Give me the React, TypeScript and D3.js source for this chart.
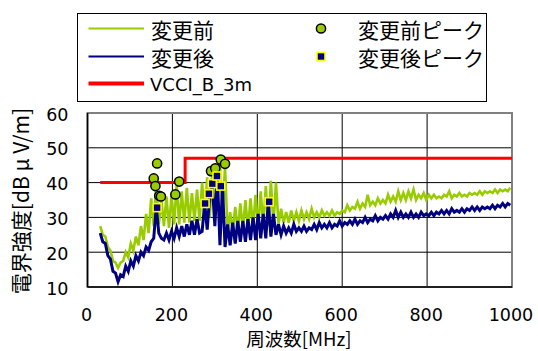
import React from 'react';
import * as d3 from 'd3';

// Measurement grid: 30 MHz start, 6 MHz step
const FREQ_START = 30;
const FREQ_STEP = 6;

// 変更前 (before) spectrum values [dBμV/m]
const beforeValues = [
  27.5, 25, 24.5, 21.5, 20.5, 17.5, 17, 15.5, 17, 17.5,
  20, 18.5, 22.5, 20.5, 24.5, 22, 27.5, 23.5, 31, 25.5,
  35.5, 27.5, 40, 28, 35, 27.5, 36, 27, 36.5, 28,
  39.5, 28, 37.5, 28.5, 38.5, 28.5, 37, 29, 38, 29,
  40, 29.5, 41.5, 30, 43, 30.5, 44, 46, 31, 44.5,
  25.5, 31.5, 26, 33, 26, 34, 26.5, 35, 26.5, 35.5,
  27, 36.5, 27, 37.5, 27.5, 39, 27.5, 40.5, 28, 40,
  28, 32.5, 28.5, 31.5, 28.5, 32, 29, 31.5, 29, 32,
  29.5, 31.5, 29.5, 32.5, 30, 31.5, 30, 32, 30.5, 31.5,
  30.5, 32, 30.5, 31.5, 31, 32, 31.5, 33.5, 32, 33,
  32.5, 34.5, 32.5, 34, 33, 36.5, 33.5, 34.5, 33.5, 35.5,
  34, 35, 34, 36.5, 34.5, 36, 34.5, 37.5, 35, 37,
  35, 37.5, 35.5, 38, 35, 36.5, 35.5, 37, 35, 36.5,
  35.5, 36.5, 35.5, 36, 35.5, 36.5, 36, 37.5, 35.5, 36.5,
  36, 37, 36, 36.5, 36, 37, 36.5, 37, 36.5, 37.5,
  36.5, 37.5, 37, 37.5, 37, 38, 37, 38, 37.5, 38,
  37.5, 38.5,
];

// 変更後 (after) spectrum values [dBμV/m]
const afterValues = [
  25.5, 23, 22.5, 19, 18, 14.5, 14, 11.5, 13.5, 13,
  16, 14.5, 17.5, 16, 19, 17.5, 20, 19, 21.5, 20.5,
  23, 24, 33, 25.5, 24, 23.5, 25.5, 23.5, 26, 24,
  27, 24.5, 27.5, 24.5, 28, 25, 29, 25, 29.5, 25.5,
  26, 34, 26.5, 36.5, 39.5, 27.5, 42, 22, 39, 21.5,
  28, 22, 28.5, 22.5, 29, 23, 29, 23, 29.5, 23.5,
  30, 23.5, 31, 24, 31, 24, 34.5, 24.5, 31, 25,
  28, 25, 27.5, 25.5, 27, 25.5, 28, 26, 27, 26,
  27.5, 26, 27, 26.5, 28, 26.5, 28.5, 27, 28, 27,
  28.5, 27, 28, 27.5, 29, 27.5, 28.5, 28, 29, 28,
  29.5, 28, 29, 28.5, 30, 28.5, 29.5, 29, 30.5, 29,
  30, 29.5, 30.5, 29.5, 31, 30, 32, 30, 31.5, 30,
  31, 30, 31.5, 30, 31, 30, 31.5, 30.5, 31, 30.5,
  31.5, 30.5, 31.5, 31, 32, 31, 32, 31, 32.5, 31.5,
  32, 31.5, 32.5, 31.5, 32.5, 32, 33, 32, 33, 32,
  33, 32.5, 33, 32.5, 33.5, 32.5, 33.5, 33, 34, 33,
  34, 33.5,
];

// VCCI class B 3m limit
const limitFreqs = [30, 230, 1000];
const limitValues = [40, 47, 47];

// Peaks
const beforePeakFreqs = [156, 160, 164, 169, 173, 207, 216, 291, 301, 314, 324];
const beforePeakValues = [41.2, 39.0, 45.5, 36.2, 36.0, 36.6, 40.3, 43.3, 44.1, 46.6, 45.4];
const afterPeakFreqs = [164, 277, 286, 294, 305, 314, 428];
const afterPeakValues = [32.8, 34.0, 36.8, 39.7, 41.9, 39.0, 34.5];

const xTicks = [0, 200, 400, 600, 800, 1000];
const yTicks = [10, 20, 30, 40, 50, 60];

const GREEN = '#99CC00';
const NAVY = '#000080';
const RED = '#FF0000';
const JP = "'Noto Sans CJK JP', sans-serif";
const LAT = "'DejaVu Sans', sans-serif";

export default function App() {
  const W = 538;
  const H = 351;
  const x = d3.scaleLinear().domain([0, 1000]).range([87.5, 512]);
  const y = d3.scaleLinear().domain([10, 60]).range([287, 113]);

  const before: [number, number][] = beforeValues.map((v, i) => [FREQ_START + FREQ_STEP * i, v]);
  const after: [number, number][] = afterValues.map((v, i) => [FREQ_START + FREQ_STEP * i, v]);
  const limit: [number, number][] = limitFreqs.map((f, i) => [f, limitValues[i]]);

  const line = d3.line<[number, number]>().x(d => x(d[0])).y(d => y(d[1]));
  const stepLine = d3
    .line<[number, number]>()
    .x(d => x(d[0]))
    .y(d => y(d[1]))
    .curve(d3.curveStepAfter);

  const [x0, x1] = x.range();
  const [y0, y1] = y.range();

  return (
    <svg
      width={W}
      height={H}
      style={{ position: 'absolute', left: 0, top: 0, background: '#fff' }}
    >
      <defs>
        <clipPath id="plot">
          <rect x={x0} y={y1} width={x1 - x0} height={y0 - y1} />
        </clipPath>
      </defs>
      <rect x={0} y={0} width={W} height={H} fill="#fff" />

      {/* gridlines */}
      {yTicks.map(t => (
        <line key={'gy' + t} x1={x0} x2={x1} y1={y(t)} y2={y(t)} stroke="#000" strokeWidth={1} />
      ))}
      {xTicks.map(t => (
        <line key={'gx' + t} x1={x(t)} x2={x(t)} y1={y1} y2={y0} stroke="#000" strokeWidth={1} />
      ))}
      <rect x={x0} y={y1} width={x1 - x0} height={y0 - y1} fill="none" stroke="#808080" strokeWidth={2} />
      <line x1={x0} x2={x0} y1={y1} y2={y0} stroke="#000" strokeWidth={1.5} />
      <line x1={x0} x2={x1} y1={y0} y2={y0} stroke="#000" strokeWidth={1.5} />

      <g clipPath="url(#plot)">
        <path d={line(before) || ''} fill="none" stroke={GREEN} strokeWidth={2.6} strokeLinejoin="miter" />
        <path d={line(after) || ''} fill="none" stroke={NAVY} strokeWidth={3} strokeLinejoin="miter" />
      </g>
      <path d={stepLine(limit) || ''} fill="none" stroke={RED} strokeWidth={3} />

      {beforePeakFreqs.map((f, i) => (
        <circle
          key={'bp' + i}
          cx={x(f)}
          cy={y(beforePeakValues[i])}
          r={4.6}
          fill={GREEN}
          stroke="#000"
          strokeWidth={1.5}
        />
      ))}
      {afterPeakFreqs.map((f, i) => (
        <rect
          key={'ap' + i}
          x={x(f) - 4}
          y={y(afterPeakValues[i]) - 4}
          width={8}
          height={8}
          fill={NAVY}
          stroke="#FFFF00"
          strokeWidth={1.6}
        />
      ))}

      {/* tick labels */}
      {yTicks.map(t => (
        <text
          key={'ly' + t}
          x={68.5}
          y={y(t) + 1.5}
          textAnchor="end"
          dominantBaseline="central"
          fontFamily={LAT}
          fontSize={17.5}
          fill="#000"
        >
          {t}
        </text>
      ))}
      {xTicks.map(t => (
        <text
          key={'lx' + t}
          x={x(t) - 1}
          y={320.5}
          textAnchor="middle"
          fontFamily={LAT}
          fontSize={17.5}
          fill="#000"
        >
          {t}
        </text>
      ))}

      {/* axis titles */}
      <text x={299} y={346} textAnchor="middle" fontFamily={JP} fontSize={18.5} fill="#000">
        周波数[MHz]
      </text>
      <text
        transform="translate(20,201) rotate(-90)"
        textAnchor="middle"
        dominantBaseline="central"
        fontFamily={JP}
        fontSize={21}
        fill="#000"
      >
        電界強度[dB μ V/m]
      </text>

      {/* legend */}
      <rect x={77.5} y={13.5} width={409} height={88} fill="#fff" stroke="#000" strokeWidth={1} />
      <line x1={88.5} x2={144} y1={28.5} y2={28.5} stroke={GREEN} strokeWidth={2} />
      <text x={151} y={28.5} dominantBaseline="central" fontFamily={JP} fontSize={21}>変更前</text>
      <line x1={88.5} x2={144} y1={56.5} y2={56.5} stroke={NAVY} strokeWidth={2} />
      <text x={151} y={56.5} dominantBaseline="central" fontFamily={JP} fontSize={21}>変更後</text>
      <line x1={88.5} x2={144} y1={83.5} y2={83.5} stroke={RED} strokeWidth={4} />
      <text x={150} y={84} dominantBaseline="central" fontFamily={LAT} fontSize={18}>VCCI_B_3m</text>
      <circle cx={321} cy={28.5} r={4.6} fill={GREEN} stroke="#000" strokeWidth={1.5} />
      <text x={358} y={28.5} dominantBaseline="central" fontFamily={JP} fontSize={21}>変更前ピーク</text>
      <rect x={317} y={52.5} width={8} height={8} fill={NAVY} stroke="#FFFF00" strokeWidth={1.6} />
      <text x={358} y={56.5} dominantBaseline="central" fontFamily={JP} fontSize={21}>変更後ピーク</text>
    </svg>
  );
}
